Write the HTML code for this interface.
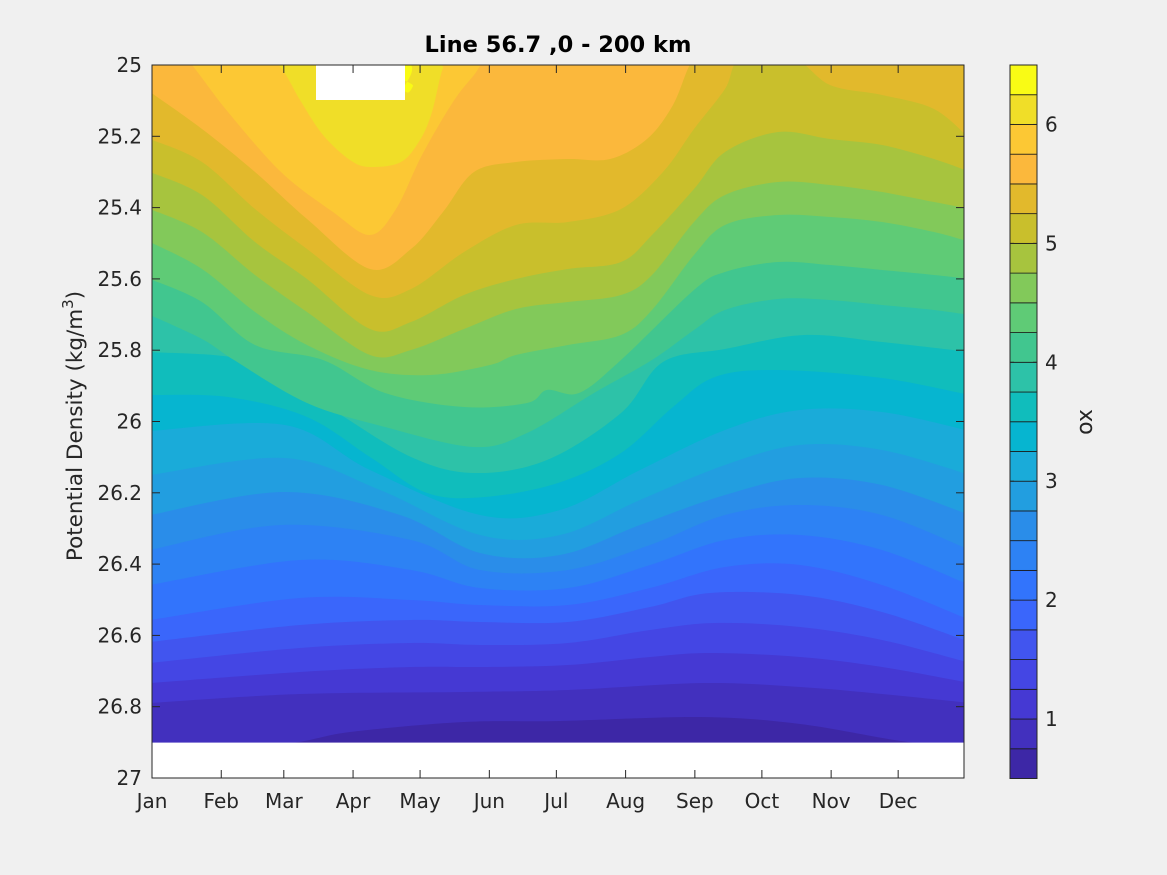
<!DOCTYPE html>
<html><head><meta charset="utf-8">
<style>
html,body{margin:0;padding:0;background:#f0f0f0;}
body{width:1167px;height:875px;overflow:hidden;font-family:"DejaVu Sans","Liberation Sans",sans-serif;}
</style></head>
<body>
<svg id="s" width="1167" height="875" xmlns="http://www.w3.org/2000/svg" style="position:absolute;left:0;top:0">
<defs><clipPath id="cp"><rect x="152" y="65" width="812" height="713"/></clipPath></defs>
<g id="plot" clip-path="url(#cp)"></g>
<g id="axes"></g>
<text x="558" y="52" text-anchor="middle" font-size="22.5" font-weight="bold" fill="#000" font-family="DejaVu Sans, Liberation Sans, sans-serif">Line 56.7 ,0 - 200 km</text>
<text transform="translate(82,426) rotate(-90)" text-anchor="middle" font-size="21.5" fill="#262626" font-family="DejaVu Sans, Liberation Sans, sans-serif">Potential Density (kg/m<tspan dy="-9" font-size="15">3</tspan><tspan dy="9">)</tspan></text>
<text transform="translate(1092,422) rotate(-90)" text-anchor="middle" font-size="22" fill="#262626" font-family="DejaVu Sans, Liberation Sans, sans-serif">ox</text>
</svg>
<script>
var cols=["#3d27a6","#4230be","#4539d3","#4446e4","#4155ef","#3a66fb","#3274fc","#2d82f4","#2a8de9","#229ee0","#1aabd9","#06b5d0","#10bdbc","#2dc2a8","#41c68f","#5fcb76","#82c95a","#a7c43e","#c9bf2c","#e2b92c","#fbb83c","#fcc834","#f0de28","#f9fb15"];
var L=[
[[150,745],[280,744],[350,732],[464,722],[560,721],[700,717],[800,724],[908,742],[970,745]],
[[150,703],[300,694],[464,692],[568,690],[704,683],[800,687],[882,694],[970,703]],
[[150,683],[300,672],[411,667],[480,667],[568,665],[650,657],[710,653],[800,657],[882,667],[970,683]],
[[150,663],[300,648],[411,643],[480,645],[568,643],[650,630],[715,623],[800,627],[882,640],[970,663]],
[[150,642],[300,625],[411,620],[480,622],[568,622],[650,607],[710,593],[800,595],[882,612],[970,642]],
[[150,620],[300,598],[411,600],[480,605],[568,605],[650,588],[725,567],[800,565],[882,585],[970,620]],
[[150,585],[300,560],[411,570],[480,588],[568,588],[650,565],[725,540],[800,535],[882,550],[970,585]],
[[150,550],[281,525],[411,540],[480,570],[568,570],[650,545],[725,515],[800,505],[882,515],[970,550]],
[[150,515],[285,492],[400,515],[480,553],[560,555],[640,525],[725,495],[800,478],[882,485],[970,515]],
[[150,475],[285,458],[380,490],[480,535],[560,535],[640,500],[725,465],[800,445],[882,450],[970,475]],
[[150,431],[285,425],[370,470],[480,515],[560,510],[640,470],[725,430],[800,410],[882,412],[970,431]],
[[150,395],[228,397],[307,417],[370,457],[427,493],[485,497],[558,483],[621,453],[673,407],[715,377],[778,370],[882,378],[970,395]],
[[150,352],[255,362],[333,410],[411,457],[474,473],[547,460],[621,413],[663,362],[725,349],[804,335],[882,342],[970,352]],
[[150,315],[202,339],[234,360],[307,403],[385,427],[474,447],[527,433],[594,393],[652,360],[694,330],[725,310],[778,299],[830,300],[882,305],[934,310],[970,315]],
[[150,279],[202,302],[255,345],[323,360],[385,393],[464,407],[527,403],[547,390],[579,393],[621,360],[694,290],[725,272],[778,262],[830,265],[882,270],[934,275],[970,279]],
[[150,242],[202,269],[255,312],[307,345],[370,370],[430,375],[490,365],[516,355],[568,345],[621,335],[652,310],[694,255],[725,225],[778,215],[830,217],[882,222],[934,232],[970,242]],
[[150,209],[202,232],[255,275],[307,312],[370,355],[411,350],[464,329],[516,309],[568,302],[621,295],[652,275],[694,222],[725,195],[778,182],[830,185],[882,192],[934,202],[970,209]],
[[150,172],[202,195],[255,242],[307,279],[370,329],[411,322],[464,295],[516,279],[568,269],[621,262],[652,235],[694,189],[725,152],[778,132],[830,139],[882,145],[934,159],[970,172]],
[[150,139],[202,162],[255,209],[307,249],[370,295],[411,289],[464,252],[516,225],[568,222],[621,209],[663,172],[694,129],[725,89],[741,58],[793,58],[830,85],[882,95],[934,109],[970,139]],
[[150,92],[202,129],[255,172],[307,219],[370,269],[411,249],[443,212],[474,172],[516,162],[568,159],[610,159],[647,139],[673,105],[694,58],[720,50],[970,50]],
[[150,50],[180,55],[192,65],[228,112],[281,172],[333,212],[370,235],[396,209],[422,155],[453,102],[474,75],[490,55],[520,50],[970,50]],
[[150,50],[260,55],[281,68],[300,100],[323,135],[350,160],[370,167],[401,162],[420,140],[432,112],[443,68],[455,55],[970,50]],
[[150,50],[390,55],[404,90],[413,86],[420,55],[970,50]]
];
function smooth(p){
 var d="M"+p[0][0]+","+p[0][1];
 for(var i=0;i<p.length-1;i++){
  var p0=p[Math.max(0,i-1)],p1=p[i],p2=p[i+1],p3=p[Math.min(p.length-1,i+2)];
  var c1x=p1[0]+(p2[0]-p0[0])/6,c1y=p1[1]+(p2[1]-p0[1])/6;
  var c2x=p2[0]-(p3[0]-p1[0])/6,c2y=p2[1]-(p3[1]-p1[1])/6;
  d+=" C"+c1x.toFixed(1)+","+c1y.toFixed(1)+" "+c2x.toFixed(1)+","+c2y.toFixed(1)+" "+p2[0]+","+p2[1];
 }
 return d;
}
var NS="http://www.w3.org/2000/svg";
var g=document.getElementById("plot");
function el(tag,attrs,parent){var e=document.createElementNS(NS,tag);for(var k in attrs)e.setAttribute(k,attrs[k]);(parent||g).appendChild(e);return e;}
el("rect",{x:150,y:60,width:820,height:720,fill:cols[0]});
for(var i=0;i<L.length;i++){
 var d=smooth(L[i])+" L970,40 L150,40 Z";
 el("path",{d:d,fill:cols[i+1]});
}
el("rect",{x:150,y:742.6,width:820,height:40,fill:"#fff"});
el("rect",{x:316,y:62,width:89,height:38,fill:"#fff"});
var a=document.getElementById("axes");
var C="#262626";
var F="DejaVu Sans, Liberation Sans, sans-serif";
el("rect",{x:152,y:65,width:812,height:713,fill:"none",stroke:C,"stroke-width":1},a);
for(var k=0;k<=10;k++){
 var v=25+k*0.2,y=65+k*71.3;
 el("line",{x1:152,y1:y,x2:160,y2:y,stroke:C},a);
 el("line",{x1:964,y1:y,x2:956,y2:y,stroke:C},a);
 var t=el("text",{x:142,y:y+7,"text-anchor":"end","font-size":"20","font-family":F,fill:C},a);
 t.textContent=(Math.round(v*10)/10).toString();
}
var days=[0,31,59,90,120,151,181,212,243,273,304,334],mn=["Jan","Feb","Mar","Apr","May","Jun","Jul","Aug","Sep","Oct","Nov","Dec"];
for(var k=0;k<12;k++){
 var x=152+days[k]*2.234;
 el("line",{x1:x,y1:778,x2:x,y2:770,stroke:C},a);
 el("line",{x1:x,y1:65,x2:x,y2:73,stroke:C},a);
 var t=el("text",{x:x,y:808,"text-anchor":"middle","font-size":"20","font-family":F,fill:C},a);
 t.textContent=mn[k];
}
var cb0=778.5,bh=713.5/24;
for(var i=0;i<24;i++){
 el("rect",{x:1010,y:cb0-(i+1)*bh,width:27,height:bh,fill:cols[i],stroke:"#1a1a1a","stroke-width":0.8},a);
}
el("rect",{x:1010,y:65,width:27,height:713.5,fill:"none",stroke:C},a);
for(var v=1;v<=6;v++){
 var y=cb0-(v-0.5)*4*bh;
 el("line",{x1:1010,y1:y,x2:1014,y2:y,stroke:C},a);
 el("line",{x1:1037,y1:y,x2:1033,y2:y,stroke:C},a);
 var t=el("text",{x:1045,y:y+7,"font-size":"20","font-family":F,fill:C},a);
 t.textContent=v;
}
</script>
</body></html>
